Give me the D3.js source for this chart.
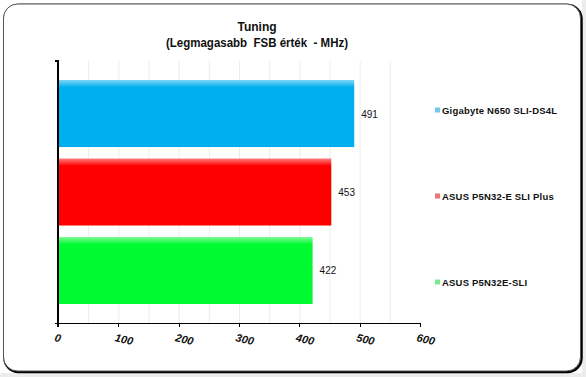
<!DOCTYPE html>
<html lang="hu">
<head>
    <meta charset="UTF-8">
    <title>Tuning</title>
    <script src="https://d3js.org/d3.v7.min.js"></script>
    <style>
        body { margin: 0; background: #fff; }
        svg { display: block; font-family: 'Liberation Sans', Arial, sans-serif; }
        .title { font-size: 12px; font-weight: bold; fill: #111; }
        .grid line { stroke: #ececec; stroke-width: 1; }
        .axis path, .axis line { stroke: #000; stroke-width: 1.3; shape-rendering: crispEdges; }
        .tick-label { font-size: 11px; font-weight: bold; font-style: italic; fill: #111; }
        .value { font-size: 10px; fill: #111; }
        .legend text { font-size: 9.5px; font-weight: bold; fill: #111; letter-spacing: 0.2px; }
    </style>
</head>
<body>
    <svg width="586" height="377"></svg>
    <script>
        const categories = ["Gigabyte N650 SLI-DS4L", "ASUS P5N32-E SLI Plus", "ASUS P5N32E-SLI"];
        const values = [491, 453, 422];
        const barColors = ["#00b0ee", "#ff0000", "#00fa32"];
        const barTopColors = ["#80d6f6", "#ff8080", "#80fc98"];
        const legendColors = ["#70c8ee", "#ee7474", "#74ec90"];
        const xTicks = [0, 100, 200, 300, 400, 500, 600];
        const gridTicks = d3.range(50, 600, 50);

        const svg = d3.select("svg");

        // frame
        svg.append("rect").attr("width", 586).attr("height", 377).attr("fill", "#ececec");
        svg.append("rect").attr("width", 582).attr("height", 373).attr("fill", "#fff");
        svg.append("rect")
            .attr("x", 4.5).attr("y", 5).attr("width", 577).attr("height", 367)
            .attr("rx", 14).attr("fill", "none").attr("stroke", "#000").attr("stroke-width", 2.5);
        svg.append("rect")
            .attr("x", 3.5).attr("y", 4).attr("width", 577).attr("height", 367)
            .attr("rx", 14).attr("fill", "#fff").attr("stroke", "#555").attr("stroke-width", 1);

        // titles
        svg.append("text").attr("class", "title").attr("x", 257).attr("y", 31)
            .attr("text-anchor", "middle").text("Tuning");
        svg.append("text").attr("class", "title").attr("x", 257).attr("y", 47)
            .attr("text-anchor", "middle").attr("xml:space", "preserve")
            .attr("textLength", 182).attr("lengthAdjust", "spacingAndGlyphs")
            .text("(Legmagasabb  FSB érték  - MHz)");

        const plotLeft = 58, plotRight = 420, plotTop = 61, plotBottom = 323;

        const x = d3.scaleLinear().domain([0, 600]).range([plotLeft, plotRight]);
        const y = d3.scaleBand().domain(categories).range([plotTop, plotBottom])
            .paddingInner(0.146).paddingOuter(0.242);

        // gradients
        const defs = svg.append("defs");
        categories.forEach((c, i) => {
            const g = defs.append("linearGradient").attr("id", "grad" + i)
                .attr("x1", 0).attr("y1", 0).attr("x2", 0).attr("y2", 1);
            g.append("stop").attr("offset", "0%").attr("stop-color", barTopColors[i]);
            g.append("stop").attr("offset", "11%").attr("stop-color", barColors[i]);
            g.append("stop").attr("offset", "100%").attr("stop-color", barColors[i]);
        });

        // grid
        svg.append("g").attr("class", "grid")
            .selectAll("line").data(gridTicks).join("line")
            .attr("x1", d => x(d) + 0.5).attr("x2", d => x(d) + 0.5)
            .attr("y1", plotTop).attr("y2", plotBottom);

        // bars
        svg.append("g").selectAll("rect").data(values).join("rect")
            .attr("x", x(0))
            .attr("y", (d, i) => y(categories[i]))
            .attr("width", d => x(d) - x(0))
            .attr("height", y.bandwidth())
            .attr("fill", (d, i) => "url(#grad" + i + ")");

        // value labels
        svg.append("g").selectAll("text").data(values).join("text")
            .attr("class", "value")
            .attr("x", d => x(d) + 7)
            .attr("y", (d, i) => y(categories[i]) + y.bandwidth() / 2 + 4)
            .text(d => d);

        // axes
        const xAxis = svg.append("g").attr("class", "axis")
            .attr("transform", "translate(0," + plotBottom + ")")
            .call(d3.axisBottom(x).tickValues(xTicks).tickSize(4).tickSizeOuter(0).tickFormat(""));
        xAxis.select(".domain").attr("d", "M" + (plotLeft - 3) + ",0.5H" + plotRight);

        const yAxis = svg.append("g").attr("class", "axis")
            .attr("transform", "translate(" + plotLeft + ",0)")
            .call(d3.axisLeft(y).tickValues([]).tickSizeOuter(0));
        yAxis.select(".domain").attr("d", "M-3," + plotTop + "H0V" + (plotBottom + 4));

        svg.append("g").selectAll("text").data(xTicks).join("text")
            .attr("class", "tick-label")
            .attr("transform", d => "translate(" + (x(d) - 4) + ",341) rotate(13)")
            .text(d => d);

        // legend
        const ly = d3.scalePoint().domain(categories).range([110, 282]);
        const legend = svg.append("g").attr("class", "legend")
            .selectAll("g").data(categories).join("g")
            .attr("transform", d => "translate(435," + ly(d) + ")");
        legend.append("rect").attr("x", 0).attr("y", -2.5).attr("width", 5).attr("height", 5)
            .attr("fill", (d, i) => legendColors[i]);
        legend.append("text").attr("x", 7).attr("y", 3.5).text(d => d);
    </script>
</body>
</html>
